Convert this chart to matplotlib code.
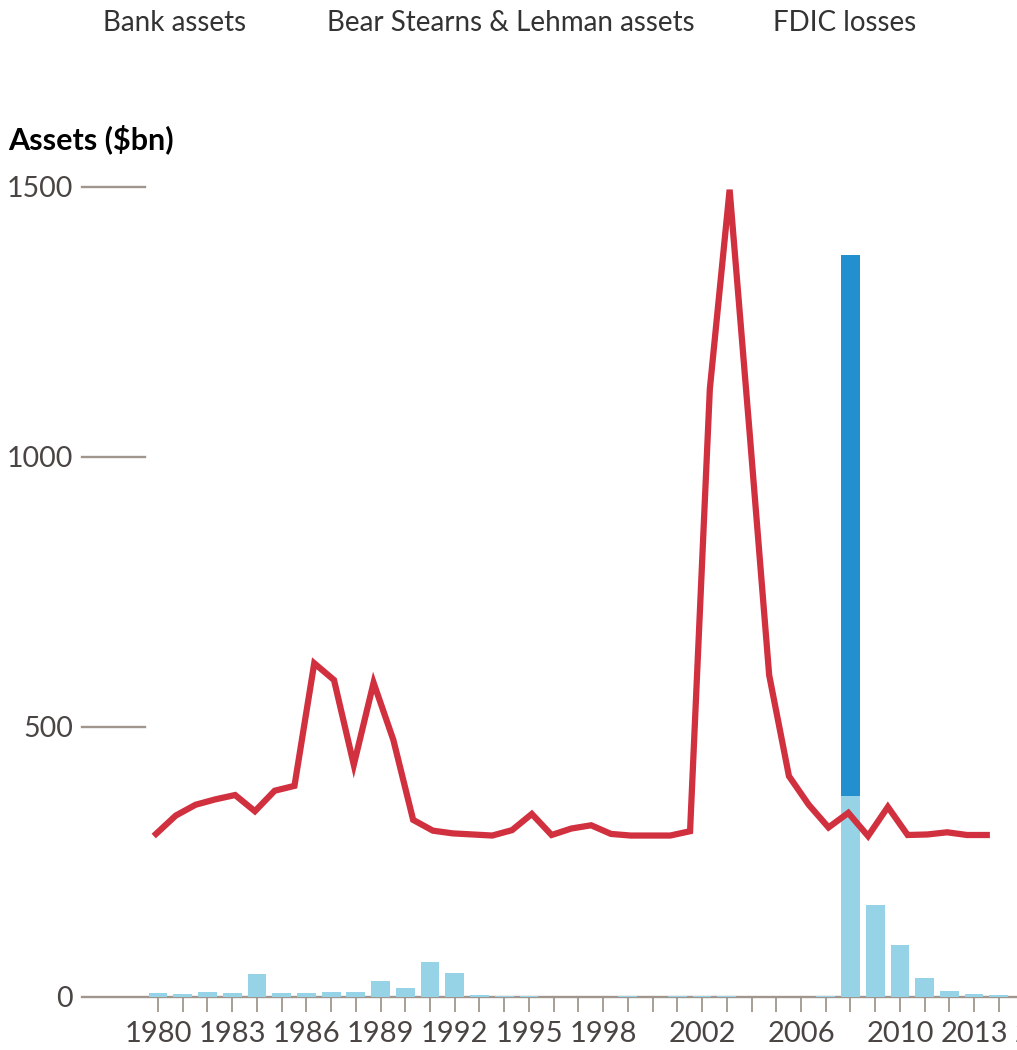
import numpy as np
import matplotlib.pyplot as plt
from matplotlib.transforms import ScaledTranslation

plt.rcParams['font.family'] = ['Lato', 'DejaVu Sans']

# Assets of failed banks by year ($bn)
bar_years = list(range(1980, 2015))
bank_assets = [7, 5, 10, 7, 42, 8, 7, 8.5, 8.5, 29,
               16, 64, 45, 3.5, 1.5, 1, 0.5, 0.3, 0.3, 1.5,
               0.4, 2, 2, 1, 0.2, 0, 0, 2.5, 372, 170,
               96, 35, 11, 6, 3]

# Bear Stearns & Lehman, stacked on top of the 2008 bank bar
bsl_years = [2008]
bsl_assets = [1002]

# FDIC series, drawn on its own x scale
loss_years = list(range(1972, 2015))
fdic_losses = [302, 336, 356, 366, 374, 344, 382, 391, 618, 587,
               430, 582, 476, 328, 308, 303, 301, 299, 309, 339,
               300, 312, 318, 302, 299, 299, 299, 307, 1126, 1495,
               1050, 596, 409, 356, 314, 341, 298, 352, 300, 301,
               305, 300, 300]

y_ticks = [0, 500, 1000, 1500]
x_labels = [1980, 1983, 1986, 1989, 1992, 1995, 1998, 2002, 2006, 2010, 2013, 2016]

light_blue = '#96d3e6'
dark_blue = '#2290ce'
red = '#d1303f'
grey = '#a0968e'
text_grey = '#4a4542'

W, H = 1017, 1050
fig = plt.figure(figsize=(W / 100, H / 100), dpi=100)
ax = fig.add_axes([0, (H - 997) / H, 1, 810 / H])
ax.set_ylim(0, 1500)
ax.set_xlim(1980 - 158 / 24.73, 1980 + (W - 158) / 24.73)

# bars
ax.bar(bar_years, bank_assets, width=0.76, color=light_blue, zorder=3)
bsl_bottom = [bank_assets[bar_years.index(y)] for y in bsl_years]
ax.bar(bsl_years, bsl_assets, bottom=bsl_bottom, width=0.76, color=dark_blue, zorder=3)

# baseline and short y reference lines
ytr = ax.get_yaxis_transform()
ax.plot([82 / W, 1], [0, 0], color=grey, lw=1.7, transform=ytr, zorder=2, clip_on=False)
for v in y_ticks[1:]:
    ax.plot([82 / W, 145 / W], [v, v], color=grey, lw=1.7, transform=ytr, clip_on=False)
for v in y_ticks:
    ax.text(73 / W, v, str(v), ha='right', va='baseline', fontsize=20.5, color=text_grey,
            transform=ytr + ScaledTranslation(0, -10 / 100, fig.dpi_scale_trans))

# year ticks
ax.set_xticks(bar_years)
ax.tick_params(axis='x', direction='out', length=10.8, width=1.3, color=grey,
               labelbottom=False)
ax.set_yticks([])
for s in ax.spines.values():
    s.set_visible(False)
xtr = ax.get_xaxis_transform()
for yr in x_labels:
    ax.text(yr, (997 - 1042) / 810, str(yr), ha='center', va='baseline', fontsize=21,
            color=text_grey, transform=xtr, clip_on=False)

# red line on its own axis
ax2 = ax.twiny()
ax2.set_xlim(1972 - 156 / 19.78, 1972 + (W - 156) / 19.78)
ax2.plot(loss_years, fdic_losses, color=red, lw=4.5, solid_joinstyle='miter',
         clip_on=False, zorder=4)
ax2.axis('off')

# header labels and axis title
for label, cx in [('Bank assets', 175), ('Bear Stearns & Lehman assets', 511), ('FDIC losses', 845)]:
    fig.text(cx / W, 1 - 31 / H, label, ha='center', va='baseline', fontsize=20, color='#333333')
fig.text(8 / W, 1 - 149 / H, 'Assets ($bn)', ha='left', va='baseline', fontsize=22,
         fontweight='bold', color='black')

plt.savefig('out.png', dpi=100)
